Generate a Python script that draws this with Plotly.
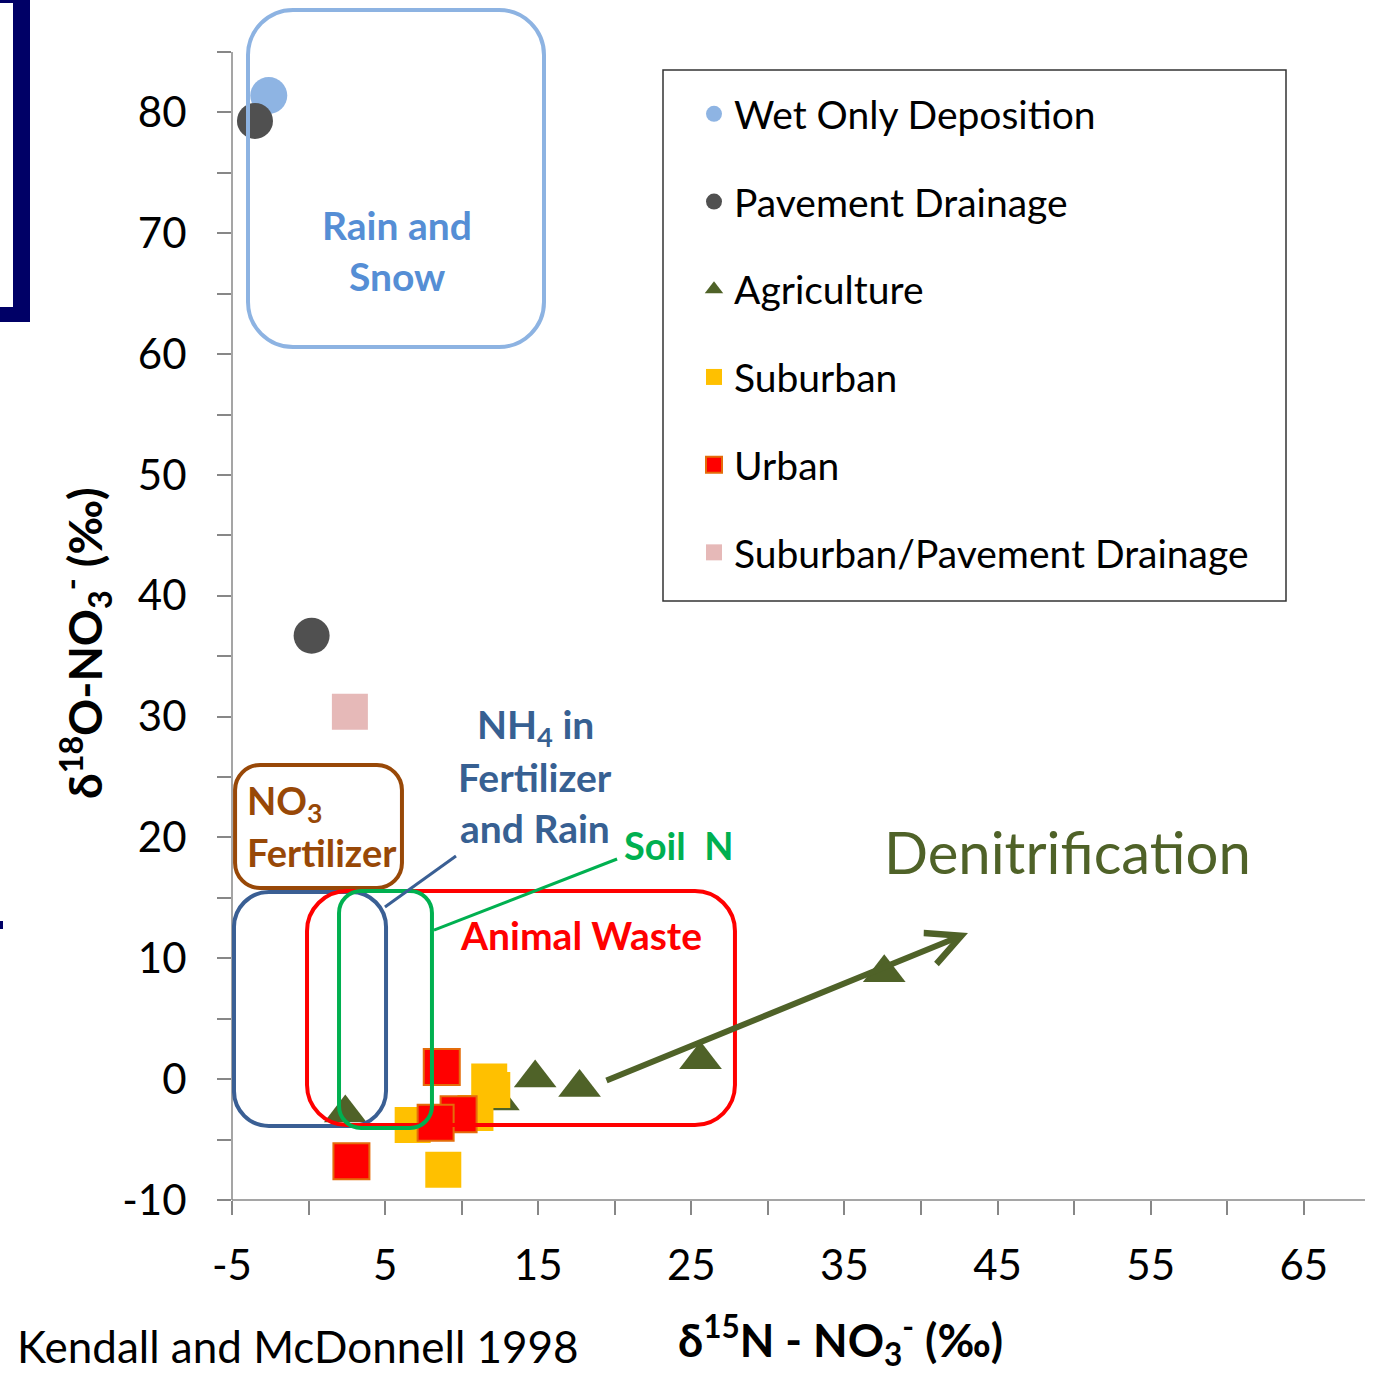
import plotly.graph_objects as go

# ---------------- data ----------------
wet_x = [-2.6]
wet_y = [81.4]

pave_x = [-3.5, 0.2]
pave_y = [79.3, 36.7]

agri_x = [2.4, 12.4, 14.8, 17.7, 25.6, 37.6]
agri_y = [-2.8, -1.8, 0.1, -0.7, 1.6, 8.8]

sub_x = [11.8, 12.0, 10.9, 6.8, 8.8]
sub_y = [-0.2, -0.9, -2.8, -3.8, -7.5]

urb_x = [8.7, 9.8, 8.3, 2.8]
urb_y = [1.0, -2.9, -3.6, -6.8]

spd_x = [2.7]
spd_y = [30.4]

x_ticks = [-5, 5, 15, 25, 35, 45, 55, 65]
x_tick_text = ["-5", "5", "15", "25", "35", "45", "55", "65"]
y_ticks = [-10, 0, 10, 20, 30, 40, 50, 60, 70, 80]
y_tick_text = ["-10", "0", "10", "20", "30", "40", "50", "60", "70", "80"]

# ---------------- layout geometry ----------------
W, H = 1376, 1375
L, R, T, B = 232, 11, 52, 175
XMIN, XMAX = -5, 69
YMIN, YMAX = -10, 85
PW = W - L - R
PH = H - T - B
SX = PW / (XMAX - XMIN)   # px per x unit
SY = PH / (YMAX - YMIN)   # px per y unit

FONT = "Lato"


def px_x(p):
    return (p - L) / PW


def px_y(p):
    return (H - B - p) / PH


def rrect(x0, x1, y0, y1, r, sx, sy):
    rx, ry, k = r / sx, r / sy, 0.5523
    return (
        f"M{x0+rx},{y1} L{x1-rx},{y1} "
        f"C{x1-rx+k*rx},{y1} {x1},{y1-ry+k*ry} {x1},{y1-ry} "
        f"L{x1},{y0+ry} "
        f"C{x1},{y0+ry-k*ry} {x1-rx+k*rx},{y0} {x1-rx},{y0} "
        f"L{x0+rx},{y0} "
        f"C{x0+rx-k*rx},{y0} {x0},{y0+ry-k*ry} {x0},{y0+ry} "
        f"L{x0},{y1-ry} "
        f"C{x0},{y1-ry+k*ry} {x0+rx-k*rx},{y1} {x0+rx},{y1} Z"
    )


fig = go.Figure()

fig.add_trace(go.Scatter(x=wet_x, y=wet_y, mode="markers", name="Wet Only Deposition",
                         legendgroup="a",
                         marker=dict(symbol="circle", size=37, color="#8EB4E3")))
fig.add_trace(go.Scatter(x=pave_x, y=pave_y, mode="markers", name="Pavement Drainage",
                         legendgroup="b",
                         marker=dict(symbol="circle", size=36, color="#505050")))
fig.add_trace(go.Scatter(x=agri_x, y=agri_y, mode="markers", name="Agriculture",
                         legendgroup="c",
                         marker=dict(symbol="triangle-up", size=37, color="#4F6228")))
fig.add_trace(go.Scatter(x=sub_x, y=sub_y, mode="markers", name="Suburban",
                         legendgroup="d",
                         marker=dict(symbol="square", size=36, color="#FFC000")))
fig.add_trace(go.Scatter(x=urb_x, y=urb_y, mode="markers", name="Urban",
                         legendgroup="e",
                         marker=dict(symbol="square", size=36, color="#FF0000",
                                     line=dict(color="#E46C0A", width=2))))
fig.add_trace(go.Scatter(x=spd_x, y=spd_y, mode="markers", name="Suburban/Pavement Drainage",
                         legendgroup="f",
                         marker=dict(symbol="square", size=36, color="#E6B9B8")))

shapes = []
# Rain and Snow box (extends above plot area -> paper coords)
shapes.append(dict(type="path", xref="paper", yref="paper", layer="above",
                   path=rrect(px_x(248), px_x(544), px_y(347), px_y(10), 45, PW, PH),
                   line=dict(color="#8DB3E2", width=4)))
# NO3 fertilizer box
shapes.append(dict(type="path", xref="x", yref="y", layer="above",
                   path=rrect(-4.80, 6.10, 15.82, 26.0, 25, SX, SY),
                   line=dict(color="#984807", width=4)))
# NH4 box
shapes.append(dict(type="path", xref="x", yref="y", layer="above",
                   path=rrect(-4.87, 5.06, -3.88, 15.49, 35, SX, SY),
                   line=dict(color="#3A5F94", width=4)))
# Animal waste box
shapes.append(dict(type="path", xref="x", yref="y", layer="above",
                   path=rrect(-0.10, 27.85, -3.80, 15.57, 40, SX, SY),
                   line=dict(color="#FF0000", width=4)))
# Soil N box
shapes.append(dict(type="path", xref="x", yref="y", layer="above",
                   path=rrect(1.99, 8.06, -4.04, 15.57, 22, SX, SY),
                   line=dict(color="#00B050", width=4)))
# leader lines
shapes.append(dict(type="line", xref="x", yref="y", layer="above",
                   x0=4.99, y0=14.25, x1=9.63, y1=18.47,
                   line=dict(color="#3A5F94", width=3)))
shapes.append(dict(type="line", xref="x", yref="y", layer="above",
                   x0=8.19, y0=12.34, x1=20.15, y1=18.22,
                   line=dict(color="#00B050", width=3)))
# axis lines drawn as shapes
shapes.append(dict(type="line", xref="paper", yref="paper", x0=0, x1=0, y0=0, y1=1,
                   line=dict(color="#878787", width=1.5), layer="below"))
shapes.append(dict(type="line", xref="paper", yref="paper", x0=0, x1=1, y0=0, y1=0,
                   line=dict(color="#878787", width=1.5), layer="below"))
# legend frame
shapes.append(dict(type="rect", xref="paper", yref="paper",
                   x0=px_x(663), x1=px_x(1286), y0=px_y(601), y1=px_y(70),
                   line=dict(color="#333333", width=1.5), layer="below"))
# navy slide frame fragment at top-left
shapes.append(dict(type="rect", xref="paper", yref="paper",
                   x0=px_x(-5), x1=px_x(30), y0=px_y(322), y1=px_y(0),
                   line=dict(width=0), fillcolor="#000066", layer="below"))
shapes.append(dict(type="rect", xref="paper", yref="paper",
                   x0=px_x(-5), x1=px_x(13), y0=px_y(307), y1=px_y(3),
                   line=dict(width=0), fillcolor="white", layer="below"))
shapes.append(dict(type="rect", xref="paper", yref="paper",
                   x0=px_x(-2), x1=px_x(3), y0=px_y(929), y1=px_y(921),
                   line=dict(width=0), fillcolor="#000066", layer="below"))

ann = []


def txt(text, x, y, color, size, bold=True, xanchor="center", xref="x", yref="y"):
    t = f"<b>{text}</b>" if bold else text
    ann.append(dict(text=t, x=x, y=y, xref=xref, yref=yref, showarrow=False,
                    xanchor=xanchor, yanchor="middle",
                    font=dict(family=FONT, size=size, color=color)))


txt("Rain and", 5.78, 70.7, "#558ED5", 39)
txt("Snow", 5.78, 66.5, "#558ED5", 39)
txt("NO<sub>3</sub>", -4.15, 22.85, "#984807", 38, xanchor="left")
txt("Fertilizer", -4.15, 18.80, "#984807", 38, xanchor="left")
txt("NH<sub>4</sub> in", 14.79, 29.14, "#376092", 39)
txt("Fertilizer", 14.79, 25.0, "#376092", 39)
txt("and Rain", 14.79, 20.78, "#376092", 39)
txt("Soil\u00a0 N", 20.45, 19.38, "#00B050", 38, xanchor="left")
txt("Animal Waste", 17.79, 11.93, "#FF0000", 39)
txt("Denitrification", 49.54, 18.80, "#4F6228", 58, bold=False)

# axis titles & source
txt("δ<sup>15</sup>N - NO<sub>3</sub><sup>-</sup> (‰)", px_x(840), px_y(1340), "#000000", 45,
    xref="paper", yref="paper")
ann.append(dict(text="<b>δ<sup>18</sup>O-NO<sub>3</sub><sup>-</sup> (‰)</b>", textangle=-90,
                x=px_x(85), y=px_y(643), xref="paper", yref="paper", showarrow=False,
                xanchor="center", yanchor="middle",
                font=dict(family=FONT, size=46, color="#000000")))
txt("Kendall and McDonnell 1998", px_x(15), px_y(1346), "#000000", 44, bold=False,
    xanchor="left", xref="paper", yref="paper")

# denitrification arrow
ann.append(dict(x=43.07, y=12.09, ax=19.36, ay=-0.16, xref="x", yref="y",
                axref="x", ayref="y", text="", showarrow=True,
                arrowhead=5, arrowsize=1.1, arrowwidth=6, arrowcolor="#4F6228"))

fig.update_layout(
    width=W, height=H,
    margin=dict(l=L, r=R, t=T, b=B, autoexpand=False),
    paper_bgcolor="white", plot_bgcolor="white",
    shapes=shapes, annotations=ann,
    font=dict(family=FONT, color="#000000"),
    legend=dict(x=px_x(694), y=px_y(82), xanchor="left", yanchor="top",
                bgcolor="rgba(0,0,0,0)", borderwidth=0,
                font=dict(family=FONT, size=39, color="#000000"),
                tracegroupgap=34, itemsizing="trace"),
    xaxis=dict(range=[XMIN, XMAX], tickvals=x_ticks, ticktext=x_tick_text,
               showgrid=False, zeroline=False,
               showline=False, ticks="outside", ticklen=14, tickwidth=1.5,
               tickcolor="#878787", ticklabelstandoff=15,
               tickfont=dict(family=FONT, size=42, color="#000000"),
               minor=dict(dtick=5, tick0=-5, ticks="outside", ticklen=14, tickwidth=1.5,
                          tickcolor="#878787", showgrid=False)),
    yaxis=dict(range=[YMIN, YMAX], tickvals=y_ticks, ticktext=y_tick_text,
               showgrid=False, zeroline=False,
               showline=False, ticks="outside", ticklen=14, tickwidth=1.5,
               tickcolor="#878787", ticklabelstandoff=22,
               tickfont=dict(family=FONT, size=42, color="#000000"),
               minor=dict(dtick=5, tick0=-10, ticks="outside", ticklen=14, tickwidth=1.5,
                          tickcolor="#878787", showgrid=False)),
)

fig.write_html("out.html")
